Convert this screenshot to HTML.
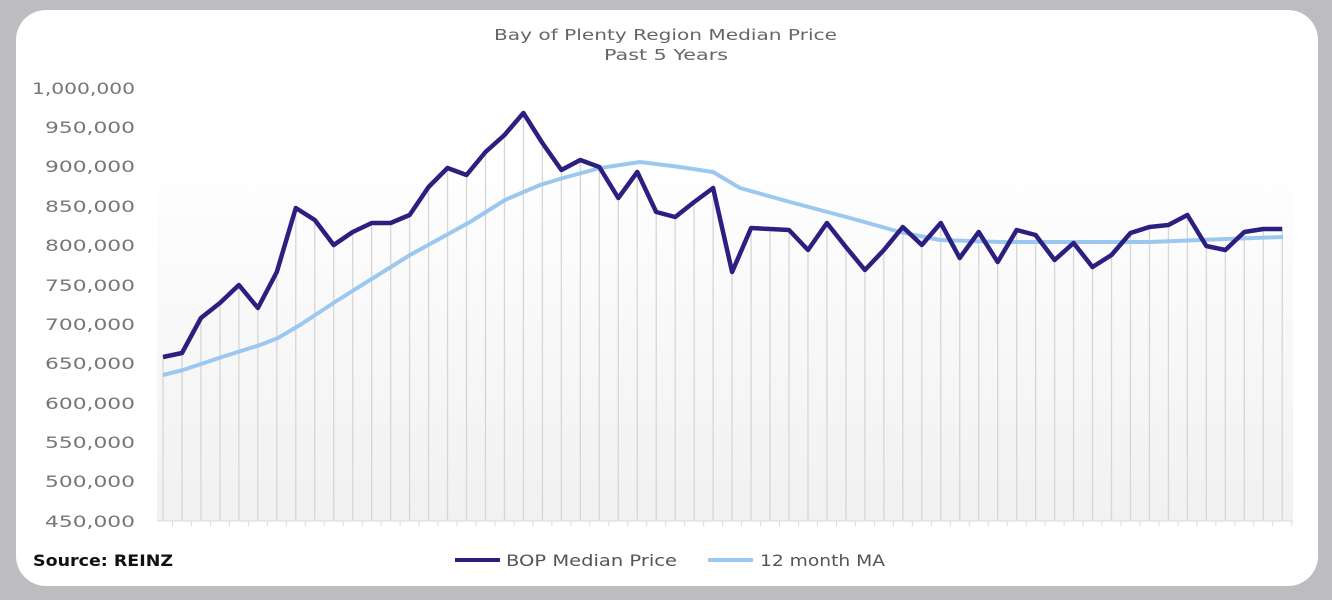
<!DOCTYPE html>
<html><head><style>
html,body{margin:0;padding:0;background:#bdbcc1;width:1332px;height:600px;overflow:hidden}
.card{position:absolute;left:16px;top:10px;width:1302px;height:576px;background:#fff;border-radius:30px}
svg{position:absolute;left:0;top:0}
text{font-family:"DejaVu Sans","Liberation Sans",sans-serif}
</style></head><body>
<div class="card"></div>
<svg width="1332" height="600" viewBox="0 0 1332 600">
<defs><linearGradient id="g" x1="0" y1="0" x2="0" y2="1"><stop offset="0" stop-color="#fff"/><stop offset="1" stop-color="#f1f1f1"/></linearGradient></defs>
<rect x="157" y="150" width="1136" height="371" fill="url(#g)"/>
<text x="494" y="40" font-size="15" fill="#666" textLength="343" lengthAdjust="spacingAndGlyphs">Bay of Plenty Region Median Price</text>
<text x="604" y="60" font-size="15" fill="#666" textLength="124" lengthAdjust="spacingAndGlyphs">Past 5 Years</text>
<g font-size="16" fill="#777" lengthAdjust="spacingAndGlyphs">
<text x="32" y="94" textLength="103" lengthAdjust="spacingAndGlyphs">1,000,000</text><text x="45" y="133" textLength="90" lengthAdjust="spacingAndGlyphs">950,000</text><text x="45" y="172" textLength="90" lengthAdjust="spacingAndGlyphs">900,000</text><text x="45" y="212" textLength="90" lengthAdjust="spacingAndGlyphs">850,000</text><text x="45" y="251" textLength="90" lengthAdjust="spacingAndGlyphs">800,000</text><text x="45" y="291" textLength="90" lengthAdjust="spacingAndGlyphs">750,000</text><text x="45" y="330" textLength="90" lengthAdjust="spacingAndGlyphs">700,000</text><text x="45" y="369" textLength="90" lengthAdjust="spacingAndGlyphs">650,000</text><text x="45" y="409" textLength="90" lengthAdjust="spacingAndGlyphs">600,000</text><text x="45" y="448" textLength="90" lengthAdjust="spacingAndGlyphs">550,000</text><text x="45" y="487" textLength="90" lengthAdjust="spacingAndGlyphs">500,000</text><text x="45" y="527" textLength="90" lengthAdjust="spacingAndGlyphs">450,000</text>
</g>
<g id="drops" stroke="#d6d6d6" stroke-width="1.3"></g>
<line x1="157" y1="521" x2="1293" y2="521" stroke="#d9d9d9" stroke-width="1"/>
<g id="ticks" stroke="#d9d9d9" stroke-width="1"></g>
<polyline fill="none" stroke="#9cc8f0" stroke-width="4" stroke-linejoin="round" points="163,375 183,370 222,357 260,345 278,338 300,325 335,302 370,280 410,255 450,233 470,222 505,200 540,185 563,178 600,168 640,162 680,167 713,172 740,188 790,202 850,218 900,232 940,240 1000,242 1150,242 1200,240 1283,237"/>
<polyline id="main" fill="none" stroke="#2b1f80" stroke-width="4.5" stroke-linejoin="round"/>
<text x="33" y="566" font-size="16" font-weight="bold" fill="#111" textLength="140" lengthAdjust="spacingAndGlyphs">Source: REINZ</text>
<line x1="455" y1="560" x2="500" y2="560" stroke="#2b1f80" stroke-width="4"/>
<text x="506" y="566" font-size="16" fill="#555" textLength="171" lengthAdjust="spacingAndGlyphs">BOP Median Price</text>
<line x1="708" y1="560" x2="753" y2="560" stroke="#9cc8f0" stroke-width="4"/>
<text x="760" y="566" font-size="16" fill="#555" textLength="125" lengthAdjust="spacingAndGlyphs">12 month MA</text>
</svg>
<script>
var ys=[357,353,318,303,285,308,272,208,220,245,232,223,223,215,187,168,175,152,135,113,143,170,160,167,198,172,212,217,202,188,272,228,229,230,250,223,247,270,250,227,245,223,258,232,262,230,235,260,243,267,255,233,227,225,215,246,250,232,229,229];
var pts=[],d='',t='';
for(var i=0;i<ys.length;i++){var x=163+i*18.97;pts.push(x.toFixed(1)+','+ys[i]);
d+='<line x1="'+x+'" y1="'+ys[i]+'" x2="'+x+'" y2="521"/>';
t+='<line x1="'+(x+9.5)+'" y1="521" x2="'+(x+9.5)+'" y2="526"/>';}
document.getElementById('main').setAttribute('points',pts.join(' '));
document.getElementById('drops').innerHTML=d;
document.getElementById('ticks').innerHTML=t;
</script>
</body></html>
